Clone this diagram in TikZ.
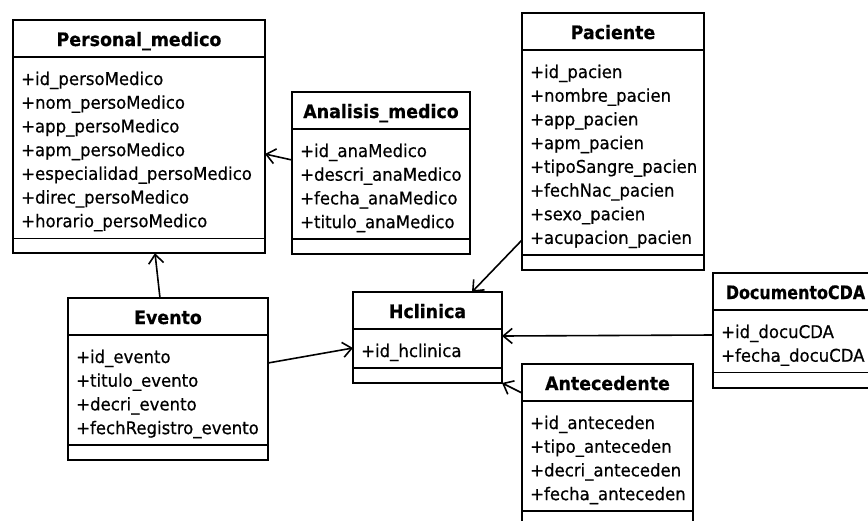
\documentclass[tikz,border=0pt]{standalone}
\usepackage{fontspec}
\setmainfont{DejaVu Sans}
\newfontfamily\attrfont{DejaVu Sans}[FakeStretch=0.945, FakeBold=0.6]
\newfontfamily\headfont{DejaVu Sans}[FakeStretch=0.94, FakeBold=0.6]
\newfontfamily\headnarrow{DejaVu Sans}[FakeStretch=0.86, FakeBold=0.6]
\usetikzlibrary{arrows.meta,calc}

\tikzset{
  classbox/.style={draw=black, line width=1.8pt, inner sep=0pt, outer sep=0pt, anchor=north west},
  divider/.style={line width=1.4pt},
  classtitle/.style={anchor=base, inner sep=0pt, font=\headfont\bfseries\fontsize{18.5}{20}\selectfont},
  attr/.style={anchor=base west, inner sep=0pt, font=\attrfont\fontsize{17.5}{20}\selectfont},
  assoc/.style={line width=1.6pt, -{Straight Barb[length=9pt,width=15pt]}},
}

% UML class: name, x, y, width, number of attributes, title, attribute list
\newcommand\umlclass[7]{%
  \pgfmathsetmacro\classh{91+(#5-1)*23.7}
  \node[classbox, minimum width=#4pt, minimum height=\classh pt] (#1) at (#2,#3) {};
  \draw[divider] ([yshift=-37pt]#1.north west) -- ([yshift=-37pt]#1.north east);
  \draw[divider] ([yshift=15pt]#1.south west) -- ([yshift=15pt]#1.south east);
  \node[classtitle] (#1-title) at ([yshift=-26pt]#1.north) {#6};
  \foreach \a [count=\i] in {#7} {
    \node[attr] (#1-a\i) at ([xshift=8pt, yshift={-(65+(\i-1)*23.7)*1pt}]#1.north west) {\a};
  }
}

\begin{document}
\begin{tikzpicture}[x=1pt, y=-1pt]
  \useasboundingbox (0,0) rectangle (868,520);
  \clip (0,0) rectangle (868,520);

  \umlclass{pm}{13}{20}{252}{7}{Personal\_medico}{+id\_persoMedico, +nom\_persoMedico, +app\_persoMedico, +apm\_persoMedico, +especialidad\_persoMedico, +direc\_persoMedico, +horario\_persoMedico}
  \umlclass{am}{292}{92}{178}{4}{Analisis\_medico}{+id\_anaMedico, +descri\_anaMedico, +fecha\_anaMedico, +titulo\_anaMedico}
  \umlclass{pa}{522}{13}{182}{8}{Paciente}{+id\_pacien, +nombre\_pacien, +app\_pacien, +apm\_pacien, +tipoSangre\_pacien, +fechNac\_pacien, +sexo\_pacien, +acupacion\_pacien}
  \umlclass{ev}{68}{298}{200}{4}{Evento}{+id\_evento, +titulo\_evento, +decri\_evento, +fechRegistro\_evento}
  \umlclass{hc}{353}{292}{149}{1}{Hclinica}{+id\_hclinica}
  \umlclass{dc}{713}{273}{165}{2}{\headnarrow\bfseries DocumentoCDA}{+id\_docuCDA, +fecha\_docuCDA}
  \umlclass{an}{522}{364}{171}{4}{Antecedente}{+id\_anteceden, +tipo\_anteceden, +decri\_anteceden, +fecha\_anteceden}

  % associations
  \draw[assoc] ([yshift=-68pt]am.north west) -- ([yshift=-134pt]pm.north east);
  \draw[assoc] ([xshift=92pt]ev.north west) -- ([xshift=142pt]pm.south west);
  \draw[assoc] ([yshift=-65pt]ev.north east) -- ([yshift=-56pt]hc.north west);
  \draw[assoc] ([yshift=-227pt]pa.north west) -- ([xshift=119pt]hc.north west);
  \draw[assoc] ([yshift=-62pt]dc.north west) -- ([yshift=-44pt]hc.north east);
  \draw[assoc] ([yshift=-29pt]an.north west) -- (hc.south east);
\end{tikzpicture}
\end{document}
